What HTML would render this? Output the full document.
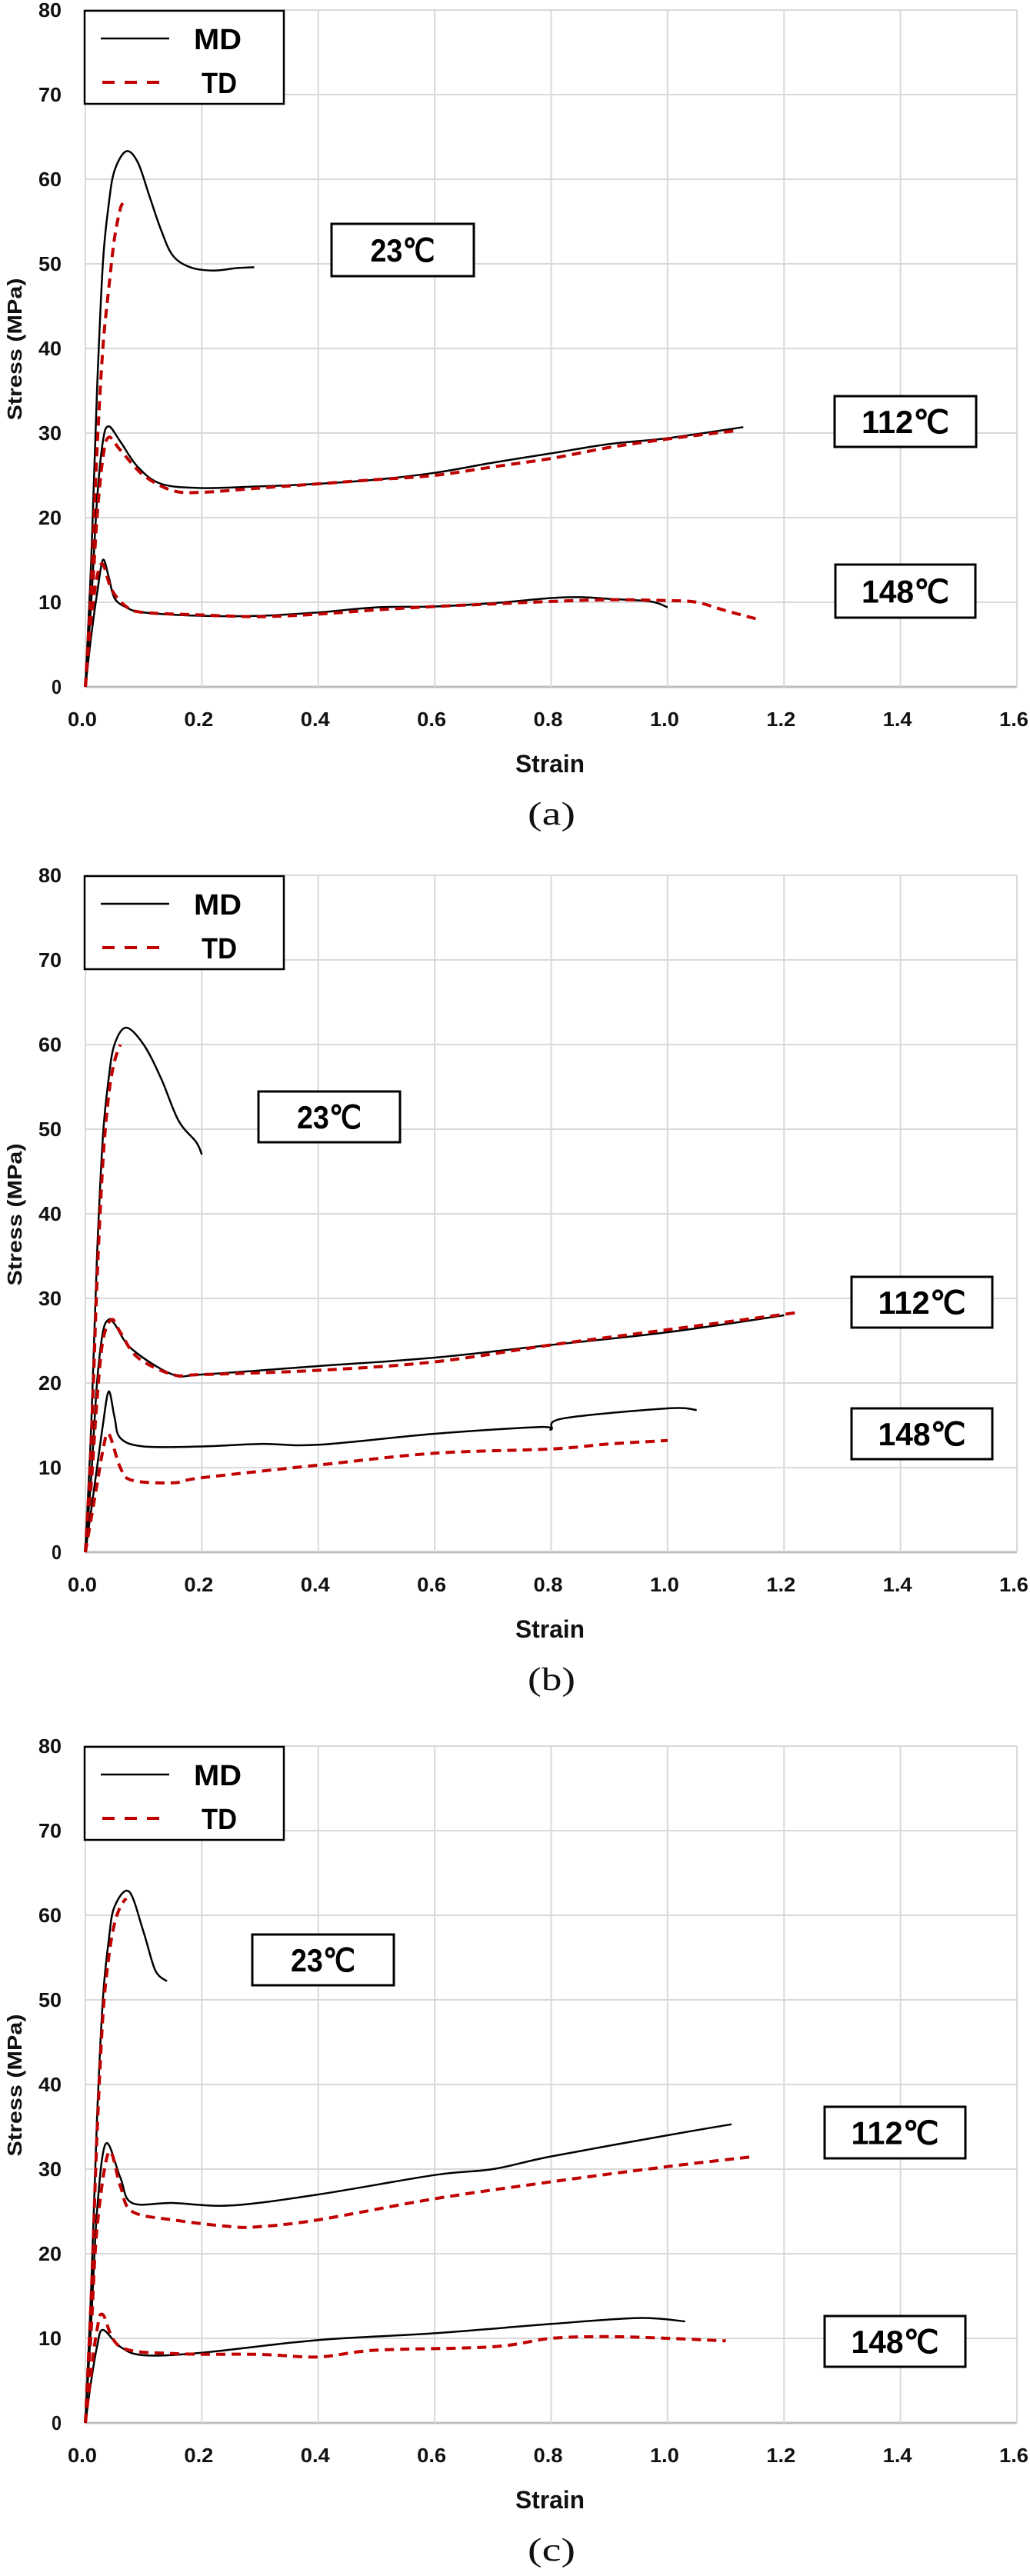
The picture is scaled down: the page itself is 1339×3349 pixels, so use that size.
<!DOCTYPE html>
<html><head><meta charset="utf-8"><style>
html,body{margin:0;padding:0;background:#fff;}
svg{display:block;font-family:"Liberation Sans",sans-serif;}
</style></head><body>
<svg id="fig" width="1339" height="3349" viewBox="0 0 1339 3349" xmlns="http://www.w3.org/2000/svg"></svg>
<script>
// ---- data (strain, stress MPa) ----
const xTicks=[0,0.2,0.4,0.6,0.8,1.0,1.2,1.4,1.6];
const xTickLabels=["0.0","0.2","0.4","0.6","0.8","1.0","1.2","1.4","1.6"];
const yTicks=[0,10,20,30,40,50,60,70,80];
const panelLabels=["(a)","(b)","(c)"];
const tempLabels=["23\u2103","112\u2103","148\u2103"];

const a_md23_x=[0,0.01,0.02,0.03,0.04,0.05,0.07,0.09,0.11,0.13,0.15,0.18,0.22,0.26,0.29];
const a_md23_y=[0,15,35,50,57,61,63.3,62,58,54,51,49.6,49.2,49.5,49.6];
const a_td23_x=[0,0.01,0.02,0.03,0.04,0.05,0.06,0.065];
const a_td23_y=[0,12,28,40,47,53,56.5,57.2];
const a_md112_x=[0,0.01,0.02,0.03,0.04,0.06,0.09,0.13,0.2,0.3,0.4,0.5,0.6,0.7,0.8,0.9,1.0,1.13];
const a_md112_y=[0,10,22,29,30.8,29,26,24,23.5,23.7,24,24.5,25.3,26.5,27.6,28.7,29.4,30.7];
const a_td112_x=[0,0.01,0.02,0.03,0.04,0.06,0.1,0.15,0.2,0.3,0.4,0.5,0.6,0.7,0.8,0.9,1.0,1.12];
const a_td112_y=[0,9,20,27,29.5,28,25,23.2,23,23.5,24,24.5,25,26,27,28.3,29.3,30.3];
const a_md148_x=[0,0.01,0.02,0.03,0.04,0.05,0.07,0.1,0.2,0.3,0.4,0.5,0.6,0.7,0.8,0.85,0.9,0.97,1.0];
const a_md148_y=[0,6,11,15,13,10.5,9.4,8.8,8.4,8.4,8.8,9.4,9.5,9.9,10.5,10.6,10.4,10.1,9.4];
const a_td148_x=[0,0.01,0.02,0.03,0.045,0.07,0.1,0.2,0.3,0.4,0.5,0.6,0.7,0.8,0.9,1.0,1.05,1.1,1.16];
const a_td148_y=[0,8,13,14.5,11.5,9.5,8.8,8.5,8.3,8.6,9.1,9.5,9.8,10.1,10.3,10.2,10,9,7.9];

const b_md23_x=[0,0.01,0.02,0.03,0.04,0.05,0.07,0.1,0.13,0.16,0.19,0.2];
const b_md23_y=[0,15,35,49,56,60,62,60,56,51,48.5,47];
const b_td23_x=[0,0.01,0.02,0.03,0.04,0.05,0.06];
const b_td23_y=[0,13,32,46,54,58,60];
const b_md112_x=[0,0.01,0.02,0.03,0.04,0.05,0.08,0.15,0.2,0.4,0.6,0.8,1.0,1.2];
const b_md112_y=[0,9,20,26,27.5,27,24,21,21,22,23,24.5,26,28];
const b_td112_x=[0,0.01,0.02,0.03,0.045,0.06,0.09,0.15,0.2,0.4,0.6,0.8,1.0,1.22];
const b_td112_y=[0,8,18,25,27.5,26,23,21,21,21.5,22.5,24.5,26.3,28.3];
const b_md148_x=[0,0.01,0.02,0.03,0.04,0.05,0.06,0.1,0.2,0.3,0.4,0.6,0.78,0.8,0.82,1.0,1.05];
const b_md148_y=[0,5,10,15,19,16,13.5,12.5,12.5,12.8,12.7,14,14.8,14.5,15.8,17,16.8];
const b_td148_x=[0,0.01,0.02,0.03,0.04,0.06,0.08,0.15,0.2,0.4,0.6,0.8,0.9,1.0];
const b_td148_y=[0,4,8,12,14,10,8.5,8.2,8.8,10.3,11.7,12.2,12.8,13.2];

const c_md23_x=[0,0.01,0.02,0.03,0.04,0.05,0.075,0.1,0.12,0.14];
const c_md23_y=[0,16,36,50,57,61,62.8,58,53.5,52.2];
const c_td23_x=[0,0.01,0.02,0.03,0.04,0.05,0.06,0.07];
const c_td23_y=[0,15,34,48,55,59,61,62];
const c_md112_x=[0,0.01,0.02,0.035,0.06,0.08,0.15,0.25,0.4,0.6,0.7,0.8,1.0,1.11];
const c_md112_y=[0,12,25,33,29,26,26,25.7,27,29.3,30,31.5,34,35.3];
const c_td112_x=[0,0.01,0.02,0.04,0.06,0.08,0.15,0.25,0.3,0.4,0.6,0.8,1.0,1.15];
const c_td112_y=[0,11,23,32,28,25,24,23.2,23.2,24,26.5,28.5,30.3,31.5];
const c_md148_x=[0,0.01,0.02,0.03,0.06,0.1,0.2,0.4,0.6,0.8,0.95,1.03];
const c_md148_y=[0,5,9,11,9,8,8.3,9.8,10.6,11.7,12.4,12];
const c_td148_x=[0,0.01,0.02,0.03,0.06,0.15,0.3,0.4,0.5,0.7,0.8,0.9,1.0,1.1];
const c_td148_y=[0,6,11,12.8,9,8.2,8.1,7.8,8.6,9,10,10.2,10,9.7];

const NS="http://www.w3.org/2000/svg";
const svg=document.getElementById('fig');
function mk(tag,attrs,parent){const e=document.createElementNS(NS,tag);for(const k in attrs)e.setAttribute(k,attrs[k]);(parent||svg).appendChild(e);return e;}
function smooth(pts){
  let d='M'+pts[0][0].toFixed(1)+' '+pts[0][1].toFixed(1);
  for(let i=0;i<pts.length-1;i++){
    const p0=pts[i-1]||pts[i],p1=pts[i],p2=pts[i+1],p3=pts[i+2]||p2;
    const c1x=p1[0]+(p2[0]-p0[0])/6,c1y=p1[1]+(p2[1]-p0[1])/6;
    const c2x=p2[0]-(p3[0]-p1[0])/6,c2y=p2[1]-(p3[1]-p1[1])/6;
    d+=` C${c1x.toFixed(1)} ${c1y.toFixed(1)} ${c2x.toFixed(1)} ${c2y.toFixed(1)} ${p2[0].toFixed(1)} ${p2[1].toFixed(1)}`;
  }
  return d;
}

const panels=[
 {off:0, series:[[a_md23_x,a_md23_y,0],[a_td23_x,a_td23_y,1],[a_md112_x,a_md112_y,0],[a_td112_x,a_td112_y,1],[a_md148_x,a_md148_y,0],[a_td148_x,a_td148_y,1]],
  boxes:[[431,291,185,68],[1085,515,184,66],[1086,734,182,69]]},
 {off:1125, series:[[b_md23_x,b_md23_y,0],[b_td23_x,b_td23_y,1],[b_md112_x,b_md112_y,0],[b_td112_x,b_td112_y,1],[b_md148_x,b_md148_y,0],[b_td148_x,b_td148_y,1]],
  boxes:[[336,294,184,66],[1107,535,183,66],[1107,706,183,66]]},
 {off:2257, series:[[c_md23_x,c_md23_y,0],[c_td23_x,c_td23_y,1],[c_md112_x,c_md112_y,0],[c_td112_x,c_td112_y,1],[c_md148_x,c_md148_y,0],[c_td148_x,c_td148_y,1]],
  boxes:[[328,258,184,66],[1072,482,183,67],[1072,754,183,66]]}
];

const X0=111, XS=(1322-111)/1.6;
panels.forEach((p,pi)=>{
  const g=mk('g',{});
  
  
  const xs=v=>X0+v*XS;
  const ys=v=>p.off+893-v*11;
  yTicks.forEach((t,i)=>{
    const l=mk('line',{x1:X0,x2:1322,y1:ys(t),y2:ys(t),stroke:t===0?'#bdbdbd':'#d9d9d9','stroke-width':t===0?3:2},g);
    
    
    const tx=mk('text',{x:80,y:ys(t)+9,'text-anchor':'end','font-size':26,'font-weight':'bold',fill:'#111',textLength:t===0?13:30,lengthAdjust:'spacingAndGlyphs'},g);
    tx.textContent=String(t);
    
    
  });
  xTicks.forEach((t,i)=>{
    if(i>0){const l=mk('line',{x1:xs(t),x2:xs(t),y1:ys(80),y2:ys(0),stroke:'#d9d9d9','stroke-width':2},g);
    
    }
    const tx=mk('text',{x:xs(t)-4,y:p.off+944,'text-anchor':'middle','font-size':26,'font-weight':'bold',fill:'#111',textLength:38,lengthAdjust:'spacingAndGlyphs'},g);
    tx.textContent=xTickLabels[i];
    
    
  });
  const l0=mk('line',{x1:X0,x2:X0,y1:ys(80),y2:ys(0),stroke:'#d9d9d9','stroke-width':2},g);
  
  
  const xt=mk('text',{x:715,y:p.off+1004,'text-anchor':'middle','font-size':32,'font-weight':'bold',fill:'#111',textLength:90,lengthAdjust:'spacingAndGlyphs'},g);
  xt.textContent='Strain';
  
  
  const yt=mk('text',{x:0,y:0,'text-anchor':'middle','font-size':26,'font-weight':'bold',fill:'#111',textLength:185,lengthAdjust:'spacingAndGlyphs',transform:`translate(28,${p.off+454}) rotate(-90)`},g);
  yt.textContent='Stress (MPa)';
  
  
  const pl=mk('text',{x:717,y:p.off+1072,'text-anchor':'middle','font-family':'Liberation Serif, serif','font-size':42,fill:'#111',textLength:62,lengthAdjust:'spacingAndGlyphs'},g);
  pl.textContent=panelLabels[pi];
  
  
  p.series.forEach(s=>{
    const pts=s[0].map((x,i)=>[xs(x),ys(s[1][i])]);
    const path=mk('path',{d:smooth(pts),fill:'none',stroke:s[2]?'#c00000':'#000','stroke-width':s[2]?4:2.5,'stroke-dasharray':s[2]?'12 8':'none','stroke-linejoin':'round'},g);
    
    
  });
  p.boxes.forEach((b,i)=>{
    const r=mk('rect',{x:b[0],y:p.off+b[1],width:b[2],height:b[3],fill:'#fff',stroke:'#000','stroke-width':3},g);
    
    
    const t=mk('text',{x:b[0]+b[2]/2,y:p.off+b[1]+b[3]/2+15,'text-anchor':'middle','font-size':42,'font-weight':'bold',fill:'#000',textLength:i===0?84:114,lengthAdjust:'spacingAndGlyphs'},g);
    t.textContent=tempLabels[i];
    
    
  });
  const lg=mk('g',{},g);
  
  
  mk('rect',{x:110,y:p.off+14,width:259,height:121,fill:'#fff',stroke:'#000','stroke-width':2.5},lg);
  mk('line',{x1:131,x2:220,y1:p.off+50,y2:p.off+50,stroke:'#000','stroke-width':2.5},lg);
  mk('line',{x1:133,x2:220,y1:p.off+107,y2:p.off+107,stroke:'#c00000','stroke-width':4,'stroke-dasharray':'16 13'},lg);
  const t1=mk('text',{x:252,y:p.off+64,'font-size':38,'font-weight':'bold',fill:'#000',textLength:62,lengthAdjust:'spacingAndGlyphs'},lg);
  t1.textContent='MD';
  
  
  const t2=mk('text',{x:262,y:p.off+121,'font-size':38,'font-weight':'bold',fill:'#000',textLength:46,lengthAdjust:'spacingAndGlyphs'},lg);
  t2.textContent='TD';
  
  
});
</script>
</body></html>
